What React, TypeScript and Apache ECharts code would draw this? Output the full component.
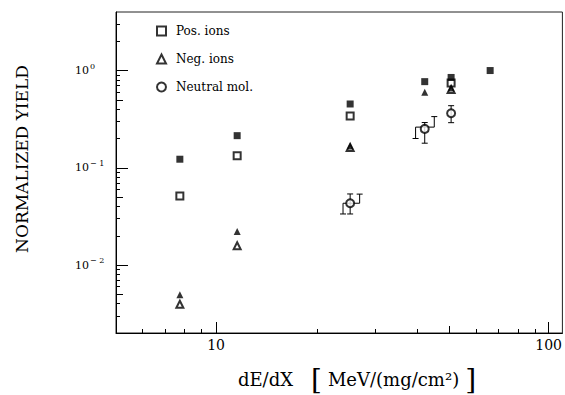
import React, { useEffect, useRef } from "react";
import * as echarts from "echarts";

// ---- axis ranges ----
const X_MIN = 5;
const X_MAX = 110;
const Y_MIN = 0.002;
const Y_MAX = 4;

// ---- minor tick values ----
const xMinorTicks = [6, 7, 8, 9, 20, 30, 40, 60, 70, 80, 90];
const xMidTicks = [50];
const yMinorTicks = [
  0.003, 0.004, 0.006, 0.007, 0.008, 0.009,
  0.02, 0.03, 0.04, 0.06, 0.07, 0.08, 0.09,
  0.2, 0.3, 0.4, 0.6, 0.7, 0.8, 0.9,
  2, 3,
];
const yMidTicks = [0.005, 0.05, 0.5];

// ---- data ----
const posOpenX = [7.78, 11.57, 25.3, 50.9];
const posOpenY = [0.0513, 0.133, 0.341, 0.746];
const posFilledX = [7.78, 11.57, 25.3, 42.4, 50.9, 66.7];
const posFilledY = [0.1225, 0.214, 0.453, 0.769, 0.849, 1.0];
const negOpenX = [7.78, 11.57, 25.3, 50.9];
const negOpenY = [0.00395, 0.0158, 0.162, 0.64];
const negFilledX = [7.78, 11.57, 25.3, 42.4, 50.9];
const negFilledY = [0.00496, 0.0221, 0.168, 0.598, 0.662];
const neutralX = [25.3, 42.4, 50.9];
const neutralY = [0.0432, 0.251, 0.364];
const neutralLow = [0.0335, 0.179, 0.291];
const neutralHigh = [0.0538, 0.292, 0.435];
// shifted range brackets: left x, right x, level, left-arm low, right-arm high
const bracketXL = [24.08, 39.8];
const bracketXR = [27.02, 45.3];
const bracketY = [0.0432, 0.262];
const bracketLow = [0.0335, 0.2];
const bracketHigh = [0.0536, 0.336];

const FONT = "DejaVu Serif";
const zip = (a: number[], b: number[]) => a.map((v, i) => [v, b[i]]);
const lg = (v: number) => Math.log10(v);

export default function App() {
  const ref = useRef<HTMLDivElement>(null);
  useEffect(() => {
    if (!ref.current) return;
    const chart = echarts.init(ref.current, null, { renderer: "svg" });
    const black = "#000";
    const seg = (x1: number, y1: number, x2: number, y2: number) => ({
      type: "line",
      shape: { x1, y1, x2, y2 },
      style: { stroke: black, lineWidth: 1 },
    });
    const gridBox = { left: 116, right: 1, top: 12, bottom: 62 };

    // overlay linear axes in log10 space carrying the minor/mid ticks
    const tickXAxis = (gi: number, vals: number[], len: number) => ({
      type: "value",
      gridIndex: gi,
      position: "bottom",
      min: lg(X_MIN),
      max: lg(X_MAX),
      interval: 10,
      axisLine: { show: false, onZero: false },
      axisLabel: { show: false },
      splitLine: { show: false },
      axisTick: {
        inside: true,
        length: len,
        customValues: vals.map(lg),
        lineStyle: { color: black, width: 1 },
      },
    });
    const tickYAxis = (gi: number, vals: number[], len: number) => ({
      type: "value",
      gridIndex: gi,
      position: "left",
      min: lg(Y_MIN),
      max: lg(Y_MAX),
      interval: 10,
      axisLine: { show: false, onZero: false },
      axisLabel: { show: false },
      splitLine: { show: false },
      axisTick: {
        show: true,
        inside: true,
        length: len,
        customValues: vals.map(lg),
        lineStyle: { color: black, width: 1 },
      },
    });

    const option: any = {
      animation: false,
      backgroundColor: "#fff",
      grid: [
        { ...gridBox, show: true, borderColor: "#222", borderWidth: 1 },
        { ...gridBox, show: false },
        { ...gridBox, show: false },
      ],
      legend: {
        data: ["Pos. ions", "Neg. ions", "Neutral mol."],
        orient: "vertical",
        left: 151,
        top: 20,
        itemWidth: 9,
        itemHeight: 9,
        itemGap: 16,
        selectedMode: false,
        textStyle: {
          fontFamily: FONT,
          fontSize: 12,
          color: black,
          padding: [0, 0, 0, 5],
        },
      },
      xAxis: [
        {
          type: "log",
          logBase: 10,
          gridIndex: 0,
          min: X_MIN,
          max: X_MAX,
          splitLine: { show: false },
          axisLine: { onZero: false, lineStyle: { color: black, width: 1 } },
          axisTick: { inside: true, length: 11, lineStyle: { color: black } },
          axisLabel: {
            showMinLabel: false,
            showMaxLabel: false,
            margin: 5,
            color: black,
            fontFamily: FONT,
            fontSize: 14,
            formatter: (v: number) => String(Math.round(v)),
          },
        },
        tickXAxis(1, xMinorTicks, 4),
        tickXAxis(2, xMidTicks, 7),
      ],
      yAxis: [
        {
          type: "log",
          logBase: 10,
          gridIndex: 0,
          min: Y_MIN,
          max: Y_MAX,
          splitLine: { show: false },
          axisLine: { onZero: false, lineStyle: { color: black, width: 1 } },
          axisTick: { inside: true, length: 12, lineStyle: { color: black } },
          axisLabel: {
            showMinLabel: false,
            showMaxLabel: false,
            align: "left",
            margin: 41,
            color: black,
            formatter: (v: number) => {
              const e = Math.round(Math.log10(v));
              return e === 0 ? "{b|10}{s|0}" : `{b|10}{s|− ${-e}}`;
            },
            rich: {
              b: { fontFamily: FONT, fontSize: 11, color: black, lineHeight: 12 },
              s: {
                fontFamily: FONT,
                fontSize: 8,
                color: black,
                lineHeight: 8,
                padding: [0, 0, 9, 1],
              },
            },
          },
        },
        tickYAxis(1, yMinorTicks, 4),
        tickYAxis(2, yMidTicks, 7),
      ],
      series: [
        {
          type: "custom",
          name: "errbars",
          silent: true,
          z: 2,
          data: neutralX.map((x, i) => [x, neutralY[i], neutralLow[i], neutralHigh[i]]),
          encode: { x: 0, y: [1, 2, 3] },
          renderItem: (_p: any, api: any) => {
            const x = api.value(0);
            const lo = api.coord([x, api.value(2)]);
            const hi = api.coord([x, api.value(3)]);
            const c = 3;
            return {
              type: "group",
              children: [
                seg(lo[0], lo[1], hi[0], hi[1]),
                seg(lo[0] - c, lo[1], lo[0] + c, lo[1]),
                seg(hi[0] - c, hi[1], hi[0] + c, hi[1]),
              ],
            };
          },
        },
        {
          type: "custom",
          name: "brackets",
          silent: true,
          z: 2,
          data: bracketXL.map((xl, i) => [xl, bracketXR[i], bracketY[i], bracketLow[i], bracketHigh[i]]),
          encode: { x: [0, 1], y: [2, 3, 4] },
          renderItem: (_p: any, api: any) => {
            const xl = api.value(0);
            const xr = api.value(1);
            const yv = api.value(2);
            const a = api.coord([xl, yv]);
            const b = api.coord([xr, yv]);
            const lo = api.coord([xl, api.value(3)]);
            const hi = api.coord([xr, api.value(4)]);
            const c = 3;
            return {
              type: "group",
              children: [
                seg(a[0], a[1], b[0], b[1]),
                seg(a[0], a[1], lo[0], lo[1]),
                seg(lo[0] - c, lo[1], lo[0] + c, lo[1]),
                seg(b[0], b[1], hi[0], hi[1]),
                seg(hi[0] - c, hi[1], hi[0] + c, hi[1]),
              ],
            };
          },
        },
        {
          type: "scatter",
          name: "Pos. ions",
          symbol: "emptyRect",
          symbolSize: 7,
          z: 5,
          itemStyle: { color: black, borderWidth: 1.2 },
          data: zip(posOpenX, posOpenY),
        },
        {
          type: "scatter",
          name: "Pos. ions (filled)",
          symbol: "rect",
          symbolSize: 7,
          z: 6,
          itemStyle: { color: black },
          data: zip(posFilledX, posFilledY),
        },
        {
          type: "scatter",
          name: "Neg. ions",
          symbol: "emptyTriangle",
          symbolSize: 7,
          z: 5,
          itemStyle: { color: black, borderWidth: 1.2 },
          data: zip(negOpenX, negOpenY),
        },
        {
          type: "scatter",
          name: "Neg. ions (filled)",
          symbol: "triangle",
          symbolSize: 7,
          z: 6,
          itemStyle: { color: black },
          data: zip(negFilledX, negFilledY),
        },
        {
          type: "scatter",
          name: "Neutral mol.",
          symbol: "emptyCircle",
          symbolSize: 8,
          z: 7,
          itemStyle: { color: black, borderWidth: 1.2 },
          data: zip(neutralX, neutralY),
        },
      ],
      graphic: [
        {
          type: "text",
          x: 22,
          y: 159,
          rotation: Math.PI / 2,
          style: {
            text: "NORMALIZED YIELD",
            fontFamily: FONT,
            fontSize: 17,
            fill: black,
            align: "center",
            verticalAlign: "middle",
          },
        },
        {
          type: "text",
          x: 357,
          y: 379,
          style: {
            text: "{t|dE/dX}{sp| }{br|[}{sm| }{t|MeV/(mg/cm²)}{sm| }{br|]}",
            align: "center",
            verticalAlign: "middle",
            rich: {
              t: { fontFamily: FONT, fontSize: 18, fill: black },
              sp: { width: 18 },
              sm: { width: 6 },
              br: { fontFamily: FONT, fontSize: 28, fill: black },
            },
          },
        },
      ],
    };
    chart.setOption(option);
    return () => chart.dispose();
  }, []);
  return (
    <div
      ref={ref}
      style={{ position: "absolute", left: 0, top: 0, width: 565, height: 395 }}
    />
  );
}
